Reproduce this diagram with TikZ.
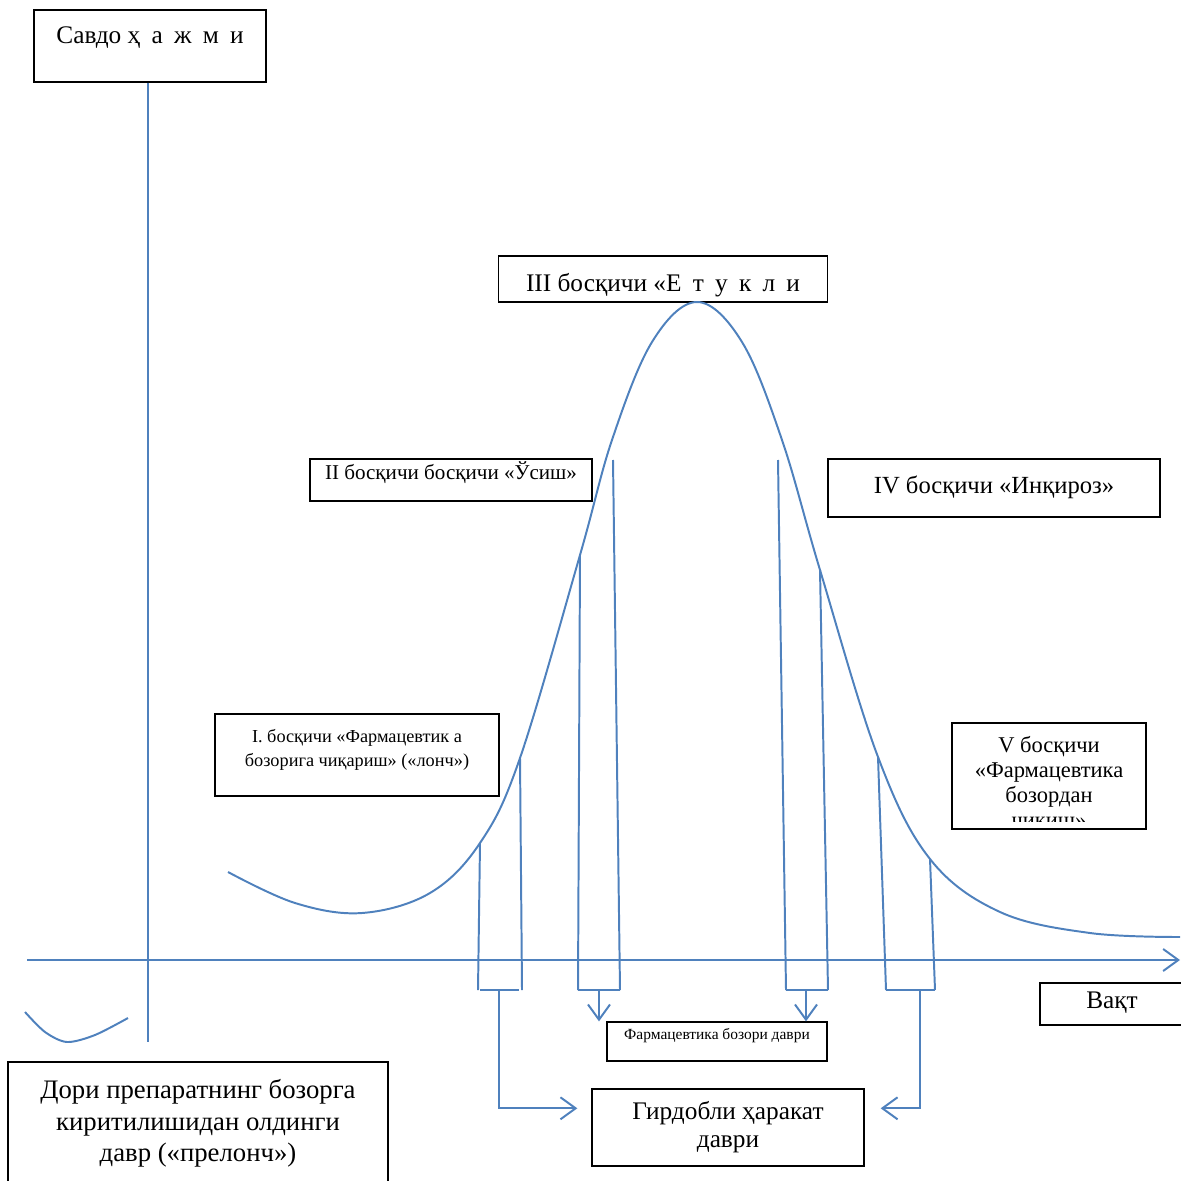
\documentclass[tikz,border=0pt]{standalone}
\usepackage{fontspec}
\setmainfont{Liberation Serif}
\usepackage{tikz}
\usetikzlibrary{arrows.meta}
\definecolor{lineblue}{RGB}{79,129,189}
\newcommand{\gap}{\hspace{3.5pt}}
\tikzset{
    box/.style={draw=black, line width=0.9pt, inner sep=0pt, align=center},
    bline/.style={draw=lineblue, line width=1.4pt},
    barb/.style={-{Straight Barb[length=0.38cm, width=0.55cm, line width=1.4pt]}}}

\begin{document}
\begin{tikzpicture}[x=0.025cm, y=-0.025cm]
        \useasboundingbox (0,0) rectangle (1180,1181);

            % boxes
            \node[box, minimum width=5.8cm, text height=0.85cm, text depth=0.95cm, font=\fontsize{18}{21}\selectfont] (savdo) at (150,46) {Савдо ҳ\gap{} а\gap{} ж\gap{} м\gap{} и};
            \node[box, minimum width=8.225cm, text height=0.875cm, text depth=0.275cm, font=\fontsize{18}{21}\selectfont] (etuk) at (663,279) {III босқичи «Е\gap{} т\gap{} у\gap{} к\gap{} л\gap{} и};
            \node[box, minimum width=7.05cm, text height=0.5cm, text depth=0.55cm, font=\fontsize{15}{18}\selectfont] (usish) at (451,480) {II босқичи босқичи «Ўсиш»};
            \node[box, minimum width=8.3cm, text height=0.85cm, text depth=0.6cm, font=\fontsize{17.5}{21}\selectfont] (inqiroz) at (994,488) {IV босқичи «Инқироз»};
            \node[box, minimum width=7.1cm, text height=1.3cm, text depth=0.75cm, font=\fontsize{13}{16.5}\selectfont] (lonch) at (357,755) {I. босқичи «Фармацевтик а\\бозорига чиқариш» («лонч»)};
            \node[box, minimum width=4.85cm, minimum height=2.65cm] (chiqish) at (1049,776) {};
            \node[box, minimum width=3.6cm, text height=0.625cm, text depth=0.425cm, font=\fontsize{18}{21}\selectfont] (vaqt) at (1112,1004) {Вақт};
            \node[box, minimum width=5.5cm, text height=0.425cm, text depth=0.55cm, font=\fontsize{11}{13}\selectfont] (bozor) at (717,1041.5) {Фармацевтика бозори даври};
            \node[box, minimum width=6.8cm, minimum height=1.925cm, font=\fontsize{18}{20}\selectfont] (girdob) at (728,1127.5) {Гирдобли ҳаракат\\даври};
            \node[box, minimum width=9.5cm, minimum height=3.075cm, font=\fontsize{19}{22.5}\selectfont] (prelonch) at (198,1123.5) {Дори препаратнинг бозорга\\киритилишидан олдинги\\давр («прелонч»)};

            \begin{scope}
                \clip (chiqish.north west) rectangle (1146,821);
                \node[align=center, font=\fontsize{16}{17.6}\selectfont] (chiqishtext) at (1049,784) {V босқичи\\«Фармацевтика\\бозордан\\чиқиш»};
            \end{scope}

            % axes
            \coordinate (xstart) at (27,960);
            \coordinate (xend) at (1180,960);
            \coordinate (ybot) at (148,1042);
            \draw[bline] (savdo.south -| ybot) -- (ybot);
            \draw[bline, barb] (xstart) -- (xend);

            % small curve at the corner
            \draw[bline] plot[smooth] coordinates {(25,1012) (45,1032) (67,1042) (95,1035) (128,1018)};

            % life cycle curve
            \coordinate (c1l) at (480,843);
            \coordinate (c1r) at (520,758);
            \coordinate (c2l) at (580,555);
            \coordinate (c3r) at (820,570);
            \coordinate (c4l) at (878,757);
            \coordinate (c4r) at (930,859);
            \coordinate (peak) at (697,302);
            \draw[bline] plot[smooth, tension=0.6] coordinates {(228,872) (295,903) (362,913) (430,893) (c1l) (c1r) (c2l) (612,440) (652,342) (peak) (742,342) (782,440) (c3r) (c4l) (c4r) (1000,912) (1090,933) (1180,937)};

            % vertical lines down to the axis
            \coordinate (c2r) at (613,460);
            \coordinate (c3l) at (778,460);
            \foreach \t/\b in {c1l/478, c1r/522, c2l/578, c2r/620, c3l/786, c3r/828, c4l/886, c4r/935}
                \draw[bline] (\t) -- (\b,990);
            \draw[bline] (480,990) -- (519,990);
            \draw[bline] (578,990) -- (620,990);
            \draw[bline] (786,990) -- (828,990);
            \draw[bline] (886,990) -- (935,990);

            % arrows to the boxes
            \draw[bline, barb] (599,990) -- (bozor.north -| 599,0);
            \draw[bline, barb] (806,990) -- (bozor.north -| 806,0);
            \draw[bline, barb, shorten >=0.35cm] (499,990) |- ([yshift=0.48cm]girdob.west);
            \draw[bline, barb, shorten >=0.4cm] (920,990) |- ([yshift=0.48cm]girdob.east);

        \end{tikzpicture}
\end{document}
